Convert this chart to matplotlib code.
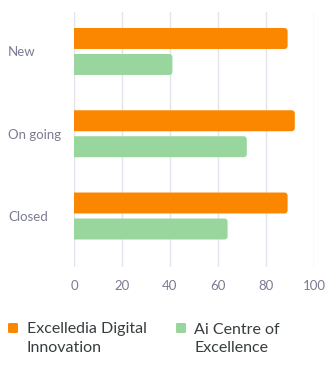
import matplotlib.pyplot as plt
import numpy as np
from matplotlib.patches import FancyBboxPatch

plt.rcParams["font.family"] = ["Lato", "DejaVu Sans"]

categories = ["New", "On going", "Closed"]
series_names = ["Excelledia Digital\nInnovation", "Ai Centre of\nExcellence"]
excelledia = [89, 92, 89]
ai_centre = [41, 72, 64]
x_ticks = [0, 20, 40, 60, 80, 100]

ORANGE = "#fb8700"
GREEN = "#98d69d"
LABEL_GREY = "#7b7b92"
GRID = "#e3e3ee"

fig = plt.figure(figsize=(3.35, 3.72), dpi=100)
ax = fig.add_axes([74 / 335, (372 - 267) / 372, 240 / 335, 255 / 372])

y = np.arange(len(categories))
bar_h = 0.255
offset = 0.158


def rounded_barh(ax, ypos, values, color):
    # bars start slightly left of zero so the clipped left edge stays square
    for yy, v in zip(ypos, values):
        p = FancyBboxPatch((-3, yy - bar_h / 2), v + 3, bar_h,
                           boxstyle="round,pad=0,rounding_size=1.3",
                           mutation_aspect=2.4 / 82.25,
                           facecolor=color, edgecolor="none", zorder=3)
        ax.add_patch(p)
        p.set_clip_path(ax.patch)


rounded_barh(ax, y - offset, excelledia, ORANGE)
rounded_barh(ax, y + offset, ai_centre, GREEN)

ax.set_xlim(0, 100)
ax.set_ylim(2.62, -0.48)
ax.set_xticks(x_ticks)
ax.set_xticklabels([str(t) for t in x_ticks])
ax.set_yticks(y)
ax.set_yticklabels(categories)
for lbl in ax.get_yticklabels():
    lbl.set_horizontalalignment("left")

ax.grid(axis="x", color=GRID, linewidth=1, zorder=0)
ax.grid(axis="y", visible=False)
for s in ax.spines.values():
    s.set_visible(False)
ax.tick_params(axis="both", length=0, colors=LABEL_GREY, labelsize=9.5)
ax.tick_params(axis="y", pad=47.5)
ax.tick_params(axis="x", pad=9)

# legend
legend_items = [(8, 27, ORANGE, series_names[0]),
                (176, 194, GREEN, series_names[1])]
for sx, tx, col, name in legend_items:
    fig.patches.append(FancyBboxPatch(
        (sx / 335, 1 - 333 / 372), 10 / 335, 10 / 372,
        boxstyle="round,pad=0,rounding_size=0.004",
        transform=fig.transFigure, facecolor=col, edgecolor="none"))
    fig.text(tx / 335, 1 - 322.5 / 372, name, ha="left", va="top",
             fontsize=11.5, color="#373d3f", linespacing=1.45)

fig.savefig("out.png", dpi=100)
